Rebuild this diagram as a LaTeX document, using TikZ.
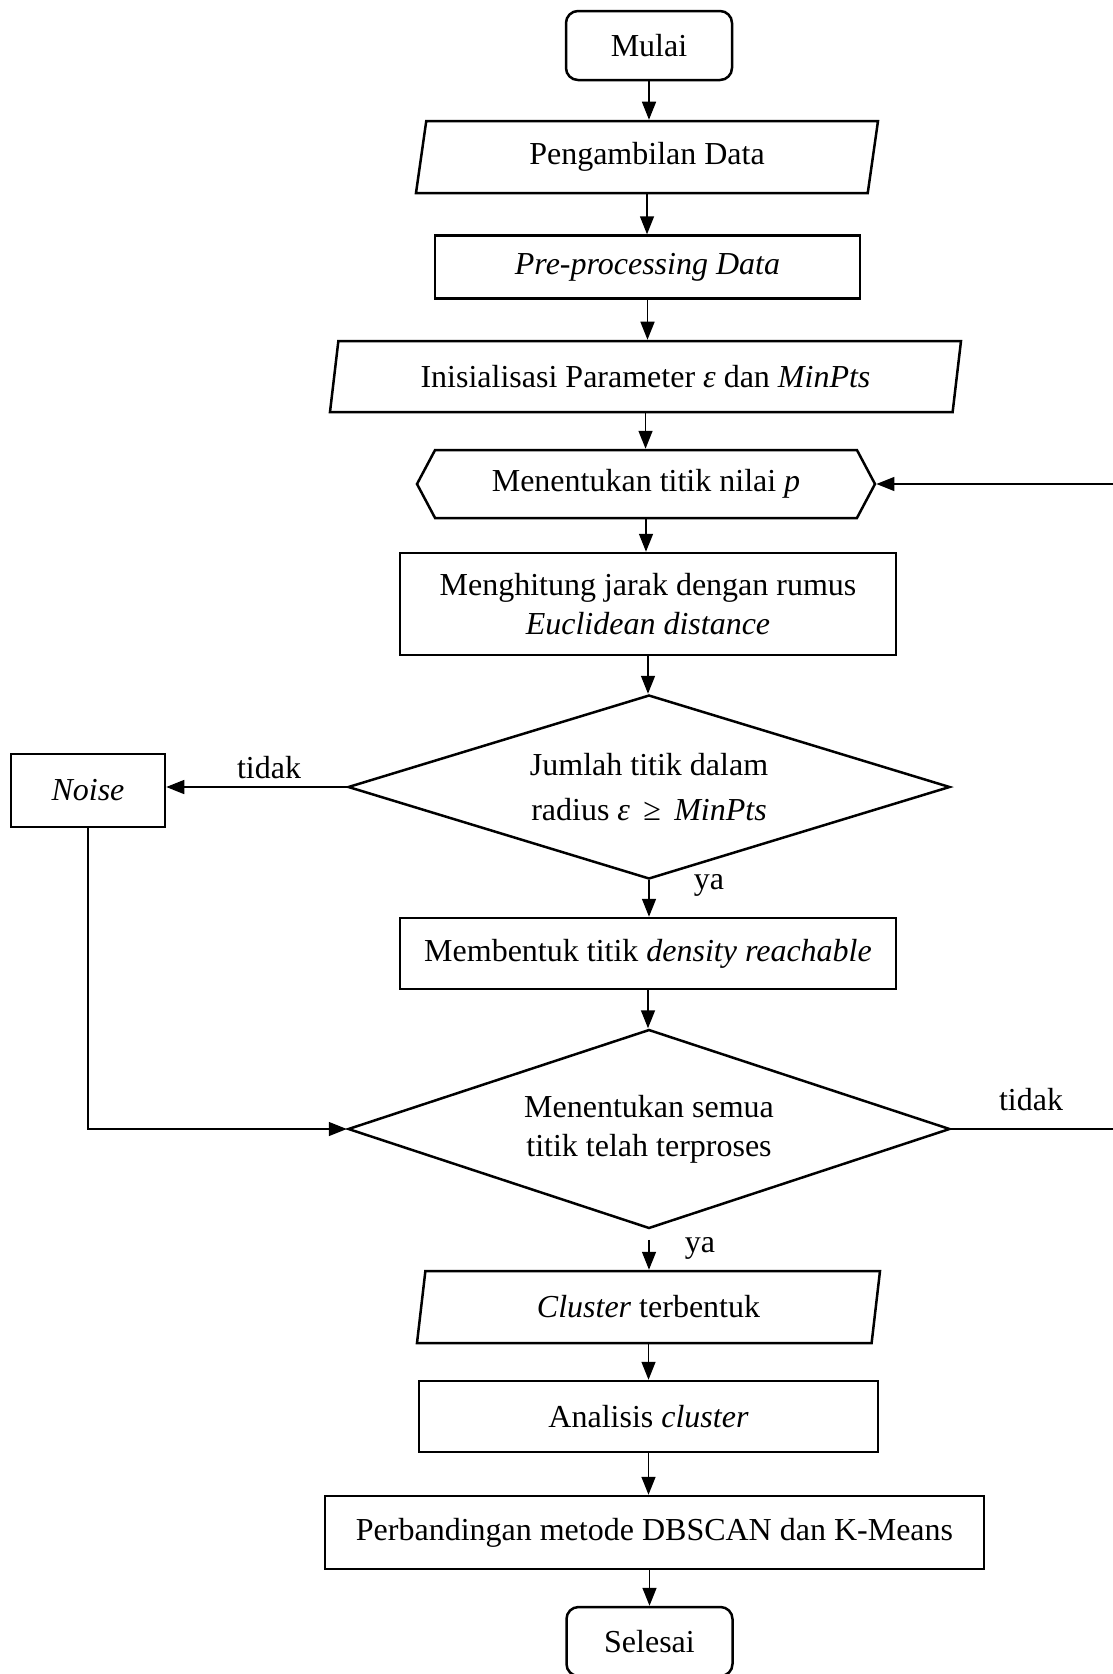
\documentclass[tikz,border=0pt]{standalone}
\usepackage{fontspec}
\setmainfont{Liberation Serif}
\usetikzlibrary{shapes.geometric,shapes.symbols,arrows.meta}

\begin{document}
\begin{tikzpicture}[x=1pt,y=-1pt,
  every node/.style={font=\fontsize{32}{39}\selectfont},
  proses/.style={draw,line width=2.5pt,rectangle,align=center},
  terminal/.style={draw,line width=2.5pt,rounded corners=12pt,minimum width=166pt,minimum height=69pt},
  dataio/.style={draw,line width=2.5pt,trapezium,trapezium left angle=74,trapezium right angle=106,trapezium stretches body,minimum height=72pt},
  persiapan/.style={draw,line width=2.5pt,signal,signal to=west and east,signal pointer angle=124,minimum height=68pt},
  keputusan/.style={draw,line width=2.5pt,diamond,aspect=3.3,inner sep=0pt,align=center,minimum width=602pt},
  panah/.style={line width=1.5pt,-{Triangle[length=18pt,width=14pt]}},
  garis/.style={line width=1.5pt}]
\useasboundingbox (0,0) rectangle (1113,1674);

\node[terminal] (mulai) at (649,45.5) {Mulai};
\node[dataio, minimum width=462pt] (ambil) at (647,157) {Pengambilan Data};
\node[proses, minimum width=425pt, minimum height=63pt] (prepro) at (647.5,267) {\textit{Pre-processing Data}};
\node[dataio, minimum width=631pt, minimum height=71pt] (init) at (645.5,376.5) {Inisialisasi Parameter \textit{ε} dan \textit{MinPts}};
\node[persiapan, minimum width=458pt] (titik) at (646,484) {Menentukan titik nilai \textit{p}};
\node[proses, minimum width=496pt, minimum height=102pt] (hitung) at (648,604) {Menghitung jarak dengan rumus\\ \textit{Euclidean distance}};
\node[keputusan, minimum height=184pt] (cek1) at (649,787) {Jumlah titik dalam\\[6pt] radius \textit{ε}\, ≥\, \textit{MinPts}};
\node[proses, minimum width=154pt, minimum height=73pt] (noise) at (88,790.5) {\textit{Noise}};
\node[proses, minimum width=496pt, minimum height=71pt] (bentuk) at (648,953.5) {Membentuk titik \textit{density reachable}};
\node[keputusan, minimum height=199pt] (cek2) at (649,1129) {Menentukan semua\\ titik telah terproses};
\node[dataio, minimum width=463pt] (klaster) at (648.5,1307) {\textit{Cluster} terbentuk};
\node[proses, minimum width=459pt, minimum height=71pt] (analisis) at (648.5,1416.5) {Analisis \textit{cluster}};
\node[proses, minimum width=659pt, minimum height=73pt] (banding) at (654.5,1532.5) {Perbandingan metode DBSCAN dan K-Means};
\node[terminal] (selesai) at (649.5,1641.5) {Selesai};

% alur utama
\foreach \a/\b in {mulai/ambil, ambil/prepro, prepro/init, init/titik, titik/hitung, hitung/cek1, cek1/bentuk, bentuk/cek2, klaster/analisis, analisis/banding}
  \draw[panah] (\a.south) -- (\a.south |- \b.north);
\draw[panah, shorten <=10pt] (cek2.south) -- (cek2.south |- klaster.north);
\draw[panah] (selesai.north |- banding.south) -- (selesai.north);

% cabang tidak
\draw[panah] (cek1.west) -- (cek1.west -| noise.east);
\draw[panah] (noise.south) |- (cek2.west);
\coordinate (balik) at (1125,1129);
\draw[garis] (cek2.east) -- (balik);
\draw[panah] (balik) |- (titik.east);

\node (tidak1) at (269,768) {tidak};
\node (ya1) at (709,885) {ya};
\node (tidak2) at (1031,1100) {tidak};
\node (ya2) at (700,1248) {ya};
\end{tikzpicture}
\end{document}
